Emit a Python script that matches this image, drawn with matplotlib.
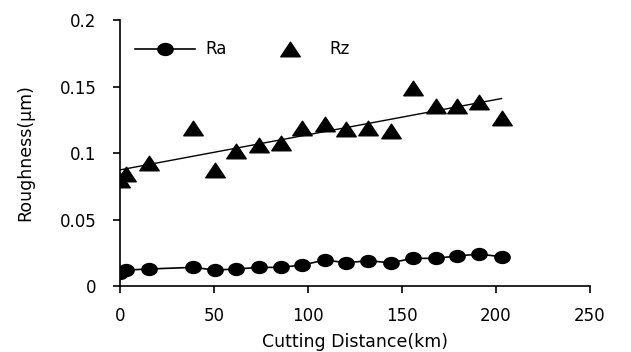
import matplotlib.pyplot as plt
from matplotlib.path import Path
import numpy as np

# cutting distance (km) shared by both series
distance = [0, 3.5, 15.5, 39, 50.5, 62, 74, 85.5, 97, 109, 120.5, 132, 144, 156, 168, 179.5, 191, 203]
# roughness values (um)
ra = [0.0095, 0.012, 0.0128, 0.014, 0.012, 0.0128, 0.014, 0.014, 0.0158, 0.0195,
      0.0175, 0.019, 0.0175, 0.0208, 0.0208, 0.0226, 0.024, 0.022]
rz = [0.080, 0.084, 0.0927, 0.1186, 0.0872, 0.1017, 0.106, 0.1078, 0.1186, 0.1218,
      0.1178, 0.1186, 0.1165, 0.149, 0.1353, 0.1353, 0.1386, 0.126]

xticks = [0, 50, 100, 150, 200, 250]
yticks = [0, 0.05, 0.1, 0.15, 0.2]
ytick_labels = ['0', '0.05', '0.1', '0.15', '0.2']

plt.rcParams['font.family'] = ['DejaVu Sans']

# slightly squashed markers, like the original picture
circ = Path.unit_circle()
flat_circle = Path(circ.vertices * [1, 0.78], circ.codes)
wide_tri = Path([(-1, -0.75), (1, -0.75), (0, 0.75), (-1, -0.75)],
                [Path.MOVETO, Path.LINETO, Path.LINETO, Path.CLOSEPOLY])

fig = plt.figure(figsize=(6.31, 3.52), dpi=100)
ax = fig.add_axes([0.19, 0.1875, 0.745, 0.7555])

x = np.array(distance)
ax.plot(x, ra, '-', marker=flat_circle, color='black', lw=1.2, ms=11, label='Ra')
ax.plot(x, rz, ls='none', marker=wide_tri, color='black', ms=14, label='Rz')

# linear trend line for Rz
k, b = np.polyfit(x, rz, 1)
ax.plot([x[0], x[-1]], [k * x[0] + b, k * x[-1] + b], color='black', lw=1.0)

ax.set_xlim(0, 250)
ax.set_ylim(0, 0.2)
ax.set_xticks(xticks)
ax.set_yticks(yticks)
ax.set_yticklabels(ytick_labels)
ax.spines['top'].set_visible(False)
ax.spines['right'].set_visible(False)
ax.spines['left'].set_linewidth(1.2)
ax.spines['bottom'].set_linewidth(1.2)
ax.tick_params(direction='out', length=5, width=1.2, labelsize=12)
ax.tick_params(axis='x', pad=10)
ax.tick_params(axis='y', pad=12)
ax.set_xlabel('Cutting Distance(km)', fontsize=12.5, labelpad=6)
ax.set_ylabel('Roughness(μm)', fontsize=12.5, labelpad=18)
for side in ['left', 'bottom']:
    ax.spines[side].set_clip_on(False)

ax.legend(loc='upper left', ncol=2, frameon=False, fontsize=12,
          bbox_to_anchor=(0.0, 0.98), handlelength=3.6, handletextpad=0.6,
          columnspacing=2.0)

fig.savefig('out.png', dpi=100)
